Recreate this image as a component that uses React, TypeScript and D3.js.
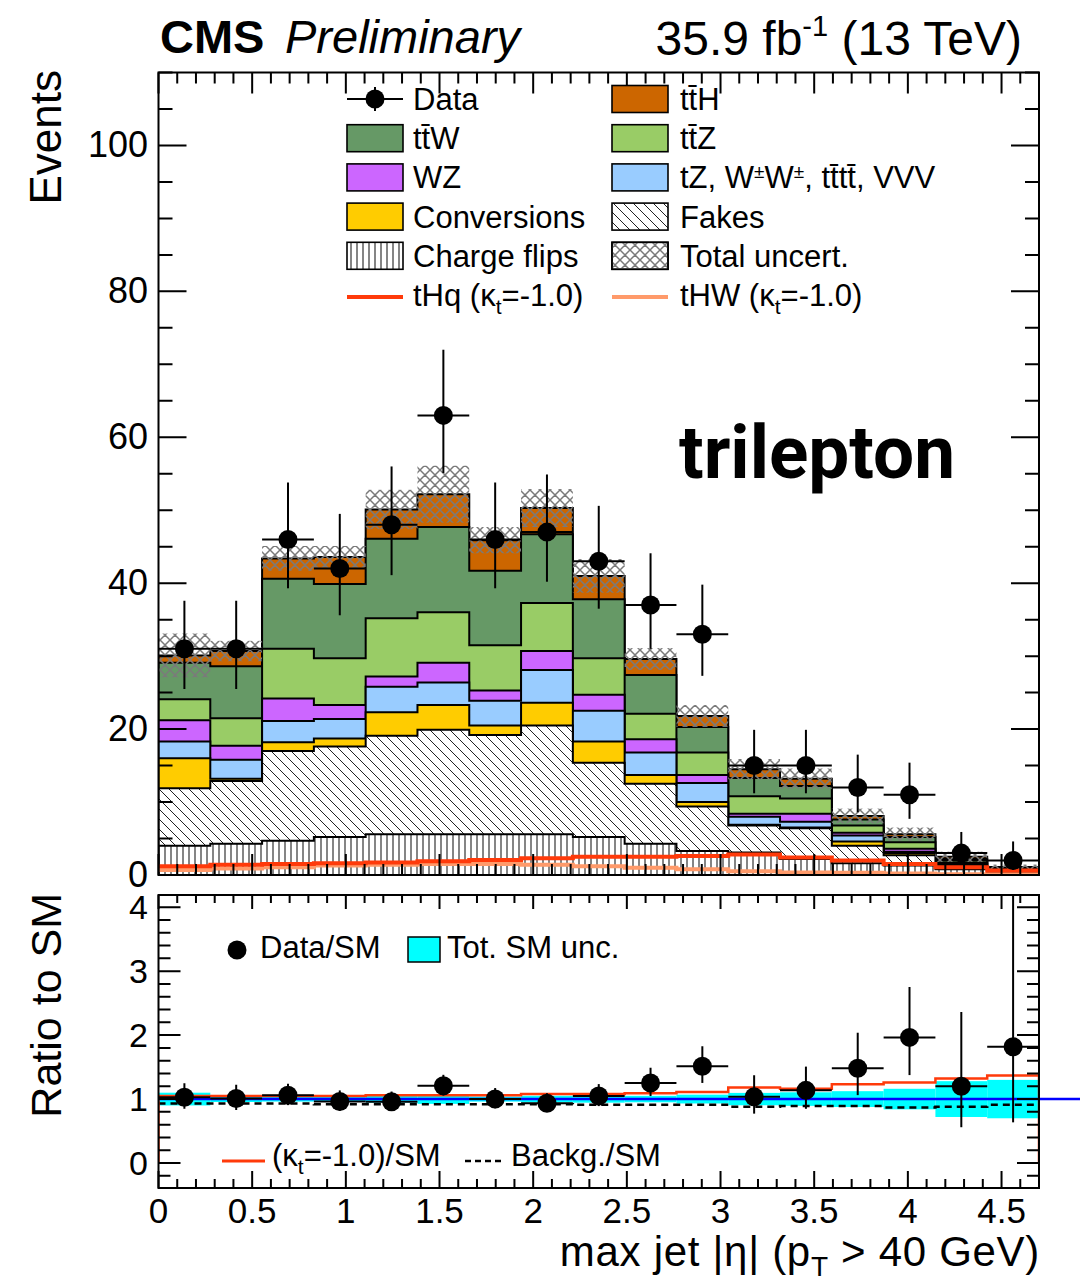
import React from 'react';
import * as d3 from 'd3';

// ---------------- data ----------------
const xMin = 0;
const xMax = 4.7;
const nBins = 17;

const chargeFlips = [4.0, 4.3, 4.7, 5.2, 5.6, 5.6, 5.6, 5.6, 5.2, 4.3, 3.3, 3.1, 2.2, 1.6, 1.3, 0.8, 0.3];
const fakes = [7.9, 8.6, 12.3, 12.4, 13.5, 14.3, 13.6, 14.9, 10.2, 8.2, 6.1, 3.7, 4.2, 2.4, 1.4, 0.4, 0.2];
const conversions = [4.1, 0.3, 1.2, 1.1, 3.2, 3.4, 1.3, 3.1, 2.9, 1.2, 0.6, 0.1, 0.1, 0.6, 0.3, 0.05, 0.05];
const rareTop = [2.3, 2.6, 2.9, 2.7, 3.5, 3.1, 3.4, 4.5, 4.2, 3.1, 2.6, 1.1, 0.8, 0.8, 0.2, 0.25, 0.1];
const wz = [2.9, 1.9, 3.1, 1.9, 1.4, 2.7, 1.4, 2.6, 2.2, 1.8, 1.1, 0.4, 1.1, 0.4, 0.4, 0.2, 0.1];
const ttz = [2.9, 3.8, 6.8, 6.4, 8.0, 6.9, 6.2, 6.6, 5.0, 3.5, 3.1, 2.4, 2.1, 1.0, 0.9, 0.3, 0.1];
const ttw = [5.0, 7.1, 9.6, 10.2, 10.9, 11.7, 10.2, 9.4, 8.1, 5.3, 3.5, 2.5, 1.7, 0.8, 0.7, 0.2, 0.1];
const tth = [1.0, 2.1, 2.8, 3.7, 4.0, 4.5, 4.2, 3.6, 3.2, 2.2, 1.5, 1.2, 1.0, 0.5, 0.4, 0.3, 0.15];
const totalUnc = [3.0, 1.4, 1.7, 1.5, 2.7, 3.9, 1.8, 2.6, 2.3, 1.5, 1.5, 1.4, 1.4, 1.0, 0.9, 0.7, 0.33];

const thq = [1.2, 1.4, 1.5, 1.6, 1.7, 1.9, 2.05, 2.3, 2.5, 2.5, 2.6, 2.8, 2.4, 2.0, 1.5, 1.05, 0.6];
const thw = [0.7, 0.9, 1.05, 1.3, 1.4, 1.5, 1.5, 1.4, 1.2, 1.0, 0.8, 0.5, 0.35, 0.3, 0.2, 0.1, 0.1];

const dataCounts = [31, 31, 46, 42, 48, 63, 46, 47, 43, 37, 33, 15, 15, 12, 11, 3, 2];
const dataErrUp = [6.6, 6.6, 7.8, 7.5, 8.0, 9.0, 7.8, 7.9, 7.6, 7.1, 6.8, 4.9, 4.9, 4.5, 4.4, 2.9, 2.6];
const dataErrDown = [5.5, 5.5, 6.7, 6.4, 6.9, 7.9, 6.7, 6.8, 6.5, 6.0, 5.7, 3.8, 3.8, 3.4, 3.3, 1.6, 1.3];

const ratioSignal = [1.05, 1.05, 1.05, 1.05, 1.06, 1.06, 1.06, 1.08, 1.08, 1.09, 1.11, 1.18, 1.16, 1.23, 1.26, 1.32, 1.37];
const ratioBackg = [0.93, 0.93, 0.93, 0.92, 0.92, 0.92, 0.92, 0.92, 0.91, 0.91, 0.91, 0.88, 0.89, 0.89, 0.87, 0.88, 0.91];

const xTickLabels = ['0', '0.5', '1', '1.5', '2', '2.5', '3', '3.5', '4', '4.5'];
const yTickLabels = ['0', '20', '40', '60', '80', '100'];
const rTickLabels = ['0', '1', '2', '3', '4'];

// ---------------- styling ----------------
const FONT = "'Liberation Sans', Arial, Helvetica, sans-serif";
const C = {
  tth: '#cc6600',
  ttw: '#669966',
  ttz: '#99cc66',
  wz: '#cc66ff',
  rare: '#99ccff',
  conv: '#ffcc00',
  thq: '#ff3a0a',
  thw: '#ff9a6a',
  cyan: '#00ffff',
  blue: '#0000ff',
};

const PL = 158.5, PR = 1039;
const TT = 72.5, TB = 875;
const RT = 895, RB = 1188;

export default function App() {
  const x = d3.scaleLinear().domain([xMin, xMax]).range([PL, PR]);
  const y = d3.scaleLinear().domain([0, 110]).range([TB, TT]);
  const yr = d3.scaleLinear().domain([-0.39, 4.19]).range([RB, RT]);
  const bw = (xMax - xMin) / nBins;
  const edges = d3.range(nBins + 1).map((i) => xMin + i * bw);
  const centers = d3.range(nBins).map((i) => xMin + (i + 0.5) * bw);

  // cumulative stack (bottom -> top)
  const comps = [chargeFlips, fakes, conversions, rareTop, wz, ttz, ttw, tth];
  const cum: number[][] = [];
  comps.forEach((c, k) => {
    cum.push(c.map((v, i) => v + (k > 0 ? cum[k - 1][i] : 0)));
  });
  const total = cum[cum.length - 1];

  const line = d3.line();
  const stepArea = (vals: number[], ys: any, base: number) => {
    const pts: [number, number][] = [[x(edges[0]), ys(base)]];
    vals.forEach((v, i) => {
      pts.push([x(edges[i]), ys(v)]);
      pts.push([x(edges[i + 1]), ys(v)]);
    });
    pts.push([x(edges[nBins]), ys(base)]);
    return line(pts) + 'Z';
  };
  const stepLine = (vals: number[], ys: any, dropEnds = false, base = 0) => {
    const pts: [number, number][] = [];
    if (dropEnds) pts.push([x(edges[0]), ys(base)]);
    vals.forEach((v, i) => {
      pts.push([x(edges[i]), ys(v)]);
      pts.push([x(edges[i + 1]), ys(v)]);
    });
    if (dropEnds) pts.push([x(edges[nBins]), ys(base)]);
    return line(pts) || '';
  };

  // stack layers drawn from top cumulative down
  const layers = [
    { vals: cum[7], fill: C.tth },
    { vals: cum[6], fill: C.ttw },
    { vals: cum[5], fill: C.ttz },
    { vals: cum[4], fill: C.wz },
    { vals: cum[3], fill: C.rare },
    { vals: cum[2], fill: C.conv },
    { vals: cum[1], fill: 'url(#fakesPat)' },
    { vals: cum[0], fill: 'url(#cfPat)' },
  ];

  // ticks
  const round = (v: number) => Math.round(v * 1000) / 1000;
  const xMajor = d3.range(0, xMax + 1e-6, 0.5).map(round);
  const xMinor = d3.range(0, xMax + 1e-6, 0.1).map(round).filter((v) => Math.abs(v / 0.5 - Math.round(v / 0.5)) > 1e-6);
  const yMajor = d3.range(0, 110.01, 20);
  const yMinor = d3.range(0, 110.01, 5).filter((v) => v % 20 !== 0);
  const rMajor = d3.range(0, 4.01, 1);
  const rMinor = d3.range(-0.2, 4.19, 0.2).map(round).filter((v) => Math.abs(v - Math.round(v)) > 1e-6);

  const tickPath = (arr: string[]) => arr.join(' ');
  const topTicks: string[] = [];
  xMajor.forEach((v) => {
    topTicks.push(`M${x(v)},${TB}V${TB - 21}`, `M${x(v)},${TT}V${TT + 21}`);
  });
  xMinor.forEach((v) => {
    topTicks.push(`M${x(v)},${TB}V${TB - 11}`, `M${x(v)},${TT}V${TT + 11}`);
  });
  yMajor.forEach((v) => {
    topTicks.push(`M${PL},${y(v)}H${PL + 28}`, `M${PR},${y(v)}H${PR - 28}`);
  });
  yMinor.forEach((v) => {
    topTicks.push(`M${PL},${y(v)}H${PL + 14}`, `M${PR},${y(v)}H${PR - 14}`);
  });
  const ratioTicks: string[] = [];
  xMajor.forEach((v) => {
    ratioTicks.push(`M${x(v)},${RB}V${RB - 17}`, `M${x(v)},${RT}V${RT + 14}`);
  });
  xMinor.forEach((v) => {
    ratioTicks.push(`M${x(v)},${RB}V${RB - 9}`, `M${x(v)},${RT}V${RT + 8}`);
  });
  rMajor.forEach((v) => {
    ratioTicks.push(`M${PL},${yr(v)}H${PL + 22}`, `M${PR},${yr(v)}H${PR - 22}`);
  });
  rMinor.forEach((v) => {
    ratioTicks.push(`M${PL},${yr(v)}H${PL + 12}`, `M${PR},${yr(v)}H${PR - 12}`);
  });

  // ratio quantities
  const rData = dataCounts.map((d, i) => d / total[i]);
  const rUp = dataErrUp.map((e, i) => e / total[i]);
  const rDown = dataErrDown.map((e, i) => e / total[i]);
  const rUnc = totalUnc.map((u, i) => u / total[i]);

  const legendRows1 = 99;
  const rowH = 39.2;
  const lx1 = 347, lx2 = 612, bwL = 56, bhL = 27;

  const legBox = (xx: number, row: number, fill: string) => (
    <rect x={xx} y={legendRows1 + row * rowH - bhL / 2} width={bwL} height={bhL} fill={fill} stroke="#000" strokeWidth={1.6} />
  );
  const legText = (xx: number, row: number, content: React.ReactNode) => (
    <text x={xx} y={legendRows1 + row * rowH + 11} fontSize={31} fontFamily={FONT}>{content}</text>
  );
  const tb = 't\u0304';

  return (
    <svg width={1080} height={1283} style={{ position: 'absolute', left: 0, top: 0, background: '#fff' }} xmlns="http://www.w3.org/2000/svg">
      <defs>
        <pattern id="fakesPat" patternUnits="userSpaceOnUse" width={10} height={10}>
          <rect width={10} height={10} fill="#fff" />
          <path d="M-5,5 L5,15 M0,0 L10,10 M5,-5 L15,5" stroke="#222" strokeWidth={1} />
        </pattern>
        <pattern id="cfPat" patternUnits="userSpaceOnUse" width={6} height={6}>
          <rect width={6} height={6} fill="#fff" />
          <path d="M3,0 V6" stroke="#333" strokeWidth={1.2} />
        </pattern>
        <pattern id="uncPat" patternUnits="userSpaceOnUse" width={10} height={10}>
          <path d="M-5,5 L5,15 M0,0 L10,10 M5,-5 L15,5 M-5,5 L5,-5 M0,10 L10,0 M5,15 L15,5" stroke="#7a7a7a" strokeWidth={1.5} />
        </pattern>
        <clipPath id="topClip">
          <rect x={PL} y={TT} width={PR - PL} height={TB - TT} />
        </clipPath>
        <clipPath id="ratioClip">
          <rect x={PL} y={RT} width={PR - PL} height={RB - RT} />
        </clipPath>
      </defs>
      <rect x={0} y={0} width={1080} height={1283} fill="#fff" />

      {/* ---------- header ---------- */}
      <text x={160} y={53} fontFamily={FONT} fontSize={47} fontWeight="bold">CMS</text>
      <text x={285} y={53} fontFamily={FONT} fontSize={47} fontStyle="italic">Preliminary</text>
      <text x={1022} y={55} fontFamily={FONT} fontSize={48} textAnchor="end">
        35.9 fb<tspan fontSize={29} dy={-19}>-1</tspan><tspan dy={19}> (13 TeV)</tspan>
      </text>

      {/* ---------- top panel ---------- */}
      <g clipPath="url(#topClip)">
        {layers.map((l, k) => (
          <path key={k} d={stepArea(l.vals, y, 0)} fill={l.fill} stroke="#000" strokeWidth={2} strokeLinejoin="miter" />
        ))}
        {total.map((t, i) => (
          <rect key={i} x={x(edges[i])} y={y(t + totalUnc[i])} width={x(edges[i + 1]) - x(edges[i])} height={y(t - totalUnc[i]) - y(t + totalUnc[i])} fill="url(#uncPat)" />
        ))}
        <path d={stepLine(thw, y)} fill="none" stroke={C.thw} strokeWidth={4} />
        <path d={stepLine(thq, y)} fill="none" stroke={C.thq} strokeWidth={4} />
        {dataCounts.map((d, i) => (
          <g key={i}>
            <line x1={x(edges[i])} x2={x(edges[i + 1])} y1={y(d)} y2={y(d)} stroke="#000" strokeWidth={2} />
            <line x1={x(centers[i])} x2={x(centers[i])} y1={y(d + dataErrUp[i])} y2={y(d - dataErrDown[i])} stroke="#000" strokeWidth={2} />
            <circle cx={x(centers[i])} cy={y(d)} r={9.5} fill="#000" />
          </g>
        ))}
      </g>
      <rect x={PL} y={TT} width={PR - PL} height={TB - TT} fill="none" stroke="#000" strokeWidth={2} />
      <path d={tickPath(topTicks)} stroke="#000" strokeWidth={2} fill="none" />
      {yMajor.map((v, i) => (
        <text key={i} x={148} y={y(v) + 12} fontFamily={FONT} fontSize={36} textAnchor="end">{yTickLabels[i]}</text>
      ))}
      <text transform="translate(61,70) rotate(-90)" fontFamily={FONT} fontSize={44} textAnchor="end">Events</text>

      {/* legend */}
      <g>
        <line x1={lx1} x2={lx1 + bwL} y1={legendRows1} y2={legendRows1} stroke="#000" strokeWidth={2} />
        <line x1={lx1 + bwL / 2} x2={lx1 + bwL / 2} y1={legendRows1 - 12} y2={legendRows1 + 12} stroke="#000" strokeWidth={2} />
        <circle cx={lx1 + bwL / 2} cy={legendRows1} r={9.5} fill="#000" />
        {legText(413, 0, 'Data')}
        {legBox(lx1, 1, C.ttw)}
        {legText(413, 1, `t${tb}W`)}
        {legBox(lx1, 2, C.wz)}
        {legText(413, 2, 'WZ')}
        {legBox(lx1, 3, C.conv)}
        {legText(413, 3, 'Conversions')}
        {legBox(lx1, 4, 'url(#cfPat)')}
        {legText(413, 4, 'Charge flips')}
        <line x1={lx1} x2={lx1 + bwL} y1={legendRows1 + 5 * rowH + 2} y2={legendRows1 + 5 * rowH + 2} stroke={C.thq} strokeWidth={4} />
        {legText(413, 5, <>tHq (κ<tspan fontSize={21} dy={8}>t</tspan><tspan dy={-8}>=-1.0)</tspan></>)}

        {legBox(lx2, 0, C.tth)}
        {legText(680, 0, `t${tb}H`)}
        {legBox(lx2, 1, C.ttz)}
        {legText(680, 1, `t${tb}Z`)}
        {legBox(lx2, 2, C.rare)}
        {legText(680, 2, <>tZ, W<tspan fontSize={19} dy={-10}>±</tspan><tspan dy={10}>W</tspan><tspan fontSize={19} dy={-10}>±</tspan><tspan dy={10}>, t{tb}t{tb}, VVV</tspan></>)}
        {legBox(lx2, 3, 'url(#fakesPat)')}
        {legText(680, 3, 'Fakes')}
        <rect x={lx2} y={legendRows1 + 4 * rowH - bhL / 2} width={bwL} height={bhL} fill="#fff" stroke="#000" strokeWidth={1.6} />
        {legBox(lx2, 4, 'url(#uncPat)')}
        {legText(680, 4, 'Total uncert.')}
        <line x1={lx2} x2={lx2 + bwL} y1={legendRows1 + 5 * rowH + 2} y2={legendRows1 + 5 * rowH + 2} stroke={C.thw} strokeWidth={4} />
        {legText(680, 5, <>tHW (κ<tspan fontSize={21} dy={8}>t</tspan><tspan dy={-8}>=-1.0)</tspan></>)}
      </g>

      <text x={679} y={478} fontFamily="Roboto, 'DejaVu Sans', sans-serif" fontSize={74} fontWeight={700} textLength={276} lengthAdjust="spacingAndGlyphs">trilepton</text>

      {/* ---------- ratio panel ---------- */}
      <g clipPath="url(#ratioClip)">
        {rUnc.map((u, i) => (
          <rect key={i} x={x(edges[i])} y={yr(1 + u)} width={x(edges[i + 1]) - x(edges[i])} height={yr(1 - u) - yr(1 + u)} fill={C.cyan} />
        ))}
        <path d={stepLine(ratioBackg, yr)} fill="none" stroke="#000" strokeWidth={2.5} strokeDasharray="7,5" />
        <path d={stepLine(ratioSignal, yr, true, 0)} fill="none" stroke={C.thq} strokeWidth={2.5} />
      </g>
      <line x1={PL} x2={1080} y1={yr(1)} y2={yr(1)} stroke={C.blue} strokeWidth={2.5} />
      <g clipPath="url(#ratioClip)">
        {rData.map((r, i) => (
          <g key={i}>
            <line x1={x(edges[i])} x2={x(edges[i + 1])} y1={yr(r)} y2={yr(r)} stroke="#000" strokeWidth={2} />
            <line x1={x(centers[i])} x2={x(centers[i])} y1={yr(r + rUp[i])} y2={yr(r - rDown[i])} stroke="#000" strokeWidth={2} />
            <circle cx={x(centers[i])} cy={yr(r)} r={9.5} fill="#000" />
          </g>
        ))}
      </g>
      <rect x={PL} y={RT} width={PR - PL} height={RB - RT} fill="none" stroke="#000" strokeWidth={2} />
      <path d={tickPath(ratioTicks)} stroke="#000" strokeWidth={2} fill="none" />
      {rMajor.map((v, i) => (
        <text key={i} x={148} y={yr(v) + 12} fontFamily={FONT} fontSize={34} textAnchor="end">{rTickLabels[i]}</text>
      ))}
      {xMajor.map((v, i) => (
        <text key={i} x={x(v)} y={1223} fontFamily={FONT} fontSize={35} textAnchor="middle">{xTickLabels[i]}</text>
      ))}
      <text transform="translate(61,893) rotate(-90)" fontFamily={FONT} fontSize={43} textAnchor="end">Ratio to SM</text>
      <text x={1040} y={1266} fontFamily={FONT} fontSize={42} letterSpacing={0.7} textAnchor="end">
        max jet |η| (p<tspan fontSize={28} dy={10}>T</tspan><tspan dy={-10}> &gt; 40 GeV)</tspan>
      </text>

      {/* ratio legend */}
      <circle cx={237} cy={950} r={9.5} fill="#000" />
      <text x={260} y={958} fontFamily={FONT} fontSize={31}>Data/SM</text>
      <rect x={408} y={937} width={32} height={25} fill={C.cyan} stroke="#000" strokeWidth={1.5} />
      <text x={447} y={958} fontFamily={FONT} fontSize={31}>Tot. SM unc.</text>
      <line x1={222} x2={265} y1={1161} y2={1161} stroke={C.thq} strokeWidth={3} />
      <text x={272} y={1166} fontFamily={FONT} fontSize={31}>
        (κ<tspan fontSize={21} dy={8}>t</tspan><tspan dy={-8}>=-1.0)/SM</tspan>
      </text>
      <line x1={465} x2={502} y1={1161} y2={1161} stroke="#000" strokeWidth={2.5} strokeDasharray="6,4" />
      <text x={511} y={1166} fontFamily={FONT} fontSize={31}>Backg./SM</text>
    </svg>
  );
}
